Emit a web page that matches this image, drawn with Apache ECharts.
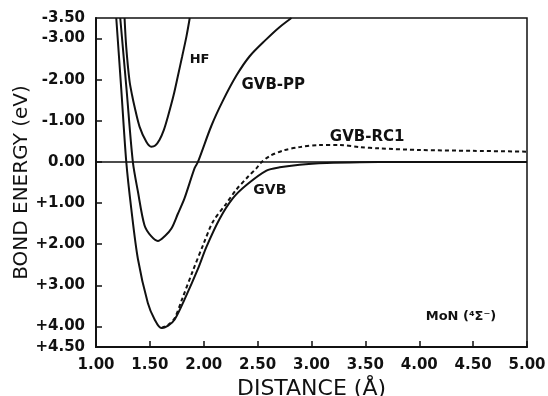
<!DOCTYPE html>
<html>
<head>
<meta charset="utf-8">
<script src="https://cdn.jsdelivr.net/npm/echarts@6/dist/echarts.min.js"></script>
<style>
html,body{margin:0;padding:0;background:#fff;}
#c{width:548px;height:396px;}
</style>
</head>
<body>
<div id="c"></div>
<script>
// ---- data (distance in Å, bond energy in eV; axis inverted) ----
var hfDist   = [1.265, 1.281, 1.311, 1.335, 1.358, 1.404, 1.467, 1.513, 1.55, 1.59, 1.63, 1.667, 1.72, 1.76, 1.80, 1.84, 1.87];
var hfEnergy = [-3.5, -2.78, -1.97, -1.62, -1.34, -0.86, -0.49, -0.37, -0.40, -0.54, -0.78, -1.10, -1.62, -2.09, -2.57, -3.06, -3.5];

var ppDist   = [1.225, 1.284, 1.342, 1.389, 1.45, 1.51, 1.574, 1.64, 1.70, 1.76, 1.822, 1.915, 1.946, 2.071, 2.178, 2.303, 2.426, 2.58, 2.70, 2.814];
var ppEnergy = [-3.5, -1.75, 0, 0.72, 1.54, 1.80, 1.92, 1.80, 1.62, 1.26, 0.88, 0.15, 0, -0.88, -1.49, -2.10, -2.57, -2.98, -3.27, -3.5];

var gvbDist   = [1.188, 1.235, 1.281, 1.327, 1.389, 1.481, 1.544, 1.606, 1.67, 1.73, 1.822, 1.946, 2.024, 2.148, 2.271, 2.396, 2.582, 2.705, 2.89, 3.14, 3.45, 3.8, 5.0];
var gvbEnergy = [-3.5, -1.75, 0, 1.13, 2.36, 3.43, 3.83, 4.04, 3.98, 3.83, 3.34, 2.60, 2.07, 1.38, 0.88, 0.56, 0.21, 0.13, 0.066, 0.025, 0.005, 0, 0];

var rcDist   = [1.606, 1.67, 1.73, 1.80, 1.90, 2.00, 2.084, 2.21, 2.30, 2.40, 2.49, 2.53, 2.61, 2.74, 2.89, 3.07, 3.26, 3.45, 3.63, 4.0, 4.5, 5.0];
var rcEnergy = [4.04, 3.96, 3.80, 3.33, 2.64, 1.98, 1.46, 1.01, 0.68, 0.39, 0.15, 0.02, -0.14, -0.28, -0.36, -0.41, -0.41, -0.36, -0.33, -0.29, -0.27, -0.25];

var zeroDist   = [1.0, 5.0];
var zeroEnergy = [0, 0];

var yLabelValues = [-3.5, -3, -2, -1, 0, 1, 2, 3, 4, 4.5];
var yTickValues  = [-3, -2, -1, 0, 1, 2, 3, 4];

var noteText   = ['HF', 'GVB-PP', 'GVB-RC1', 'GVB', 'MoN (\u2074\u03A3\u207B)'];
var noteDist   = [1.87, 2.35, 3.17, 2.46, 4.06];
var noteEnergy = [-2.48, -1.87, -0.61, 0.68, 3.77];
var noteSize   = [13, 15, 15, 14, 13];

function pairs(xs, ys){ return xs.map(function(x,i){ return [x, ys[i]]; }); }

var FONT = 'DejaVu Sans';
var INK = '#111';

var chart = echarts.init(document.getElementById('c'), null, {renderer:'canvas'});
function lineSeries(name, xs, ys, dashed, width){
  return {
    name: name, type: 'line', data: pairs(xs, ys), smooth: 0.3,
    showSymbol: false, symbol: 'none', clip: true, animation: false,
    lineStyle: {color: INK, width: width || 2, type: dashed ? [4, 3] : 'solid'}
  };
}
chart.setOption({
  animation: false,
  grid: {left: 96, right: 21, top: 18, bottom: 49, containLabel: false, outerBoundsMode: 'none',
         show: true, borderColor: INK, borderWidth: 1.5, backgroundColor: 'transparent'},
  xAxis: {
    type: 'value', min: 1, max: 5, interval: 0.5,
    name: 'DISTANCE (\u00C5)', nameLocation: 'middle', nameGap: 31, nameMoveOverlap: false,
    nameTextStyle: {fontFamily: FONT, fontSize: 22, color: INK},
    axisLine: {show: true, onZero: false, lineStyle: {color: INK, width: 2}},
    axisTick: {show: true, inside: true, length: 6, lineStyle: {color: INK, width: 1.5}},
    axisLabel: {fontFamily: FONT, fontSize: 15, fontWeight: 'bold', color: INK, margin: 11,
      formatter: function(v){ return v.toFixed(2); }},
    splitLine: {show: false}
  },
  yAxis: {
    type: 'value', min: -3.5, max: 4.5, inverse: true,
    name: 'BOND ENERGY (eV)', nameLocation: 'middle', nameGap: 64, nameRotate: 90, nameMoveOverlap: false,
    nameTextStyle: {fontFamily: FONT, fontSize: 20, color: INK},
    axisLine: {show: true, onZero: false, lineStyle: {color: INK, width: 2}},
    axisTick: {show: true, inside: true, length: 6, customValues: yTickValues, lineStyle: {color: INK, width: 1.5}},
    axisLabel: {fontFamily: FONT, fontSize: 15, fontWeight: 'bold', color: INK, margin: 11, customValues: yLabelValues,
      formatter: function(v){
        if (Math.abs(v) < 1e-9) return '0.00';
        return v < 0 ? v.toFixed(2) : '+' + v.toFixed(2);
      }},
    splitLine: {show: false}
  },
  series: [
    lineSeries('zero', zeroDist, zeroEnergy, false, 1.5),
    lineSeries('HF', hfDist, hfEnergy, false, 2),
    lineSeries('GVB-PP', ppDist, ppEnergy, false, 2),
    lineSeries('GVB', gvbDist, gvbEnergy, false, 2),
    lineSeries('GVB-RC1', rcDist, rcEnergy, true, 2)
  ]
});

var gr = noteText.map(function(t, i){
  var p = chart.convertToPixel({gridIndex: 0}, [noteDist[i], noteEnergy[i]]);
  return {
    type: 'text', x: p[0], y: p[1],
    style: {text: t, fontFamily: FONT, fontSize: noteSize[i], fontWeight: 'bold',
            fill: INK, align: 'left', verticalAlign: 'middle'}
  };
});
chart.setOption({graphic: gr});
</script>
</body>
</html>
